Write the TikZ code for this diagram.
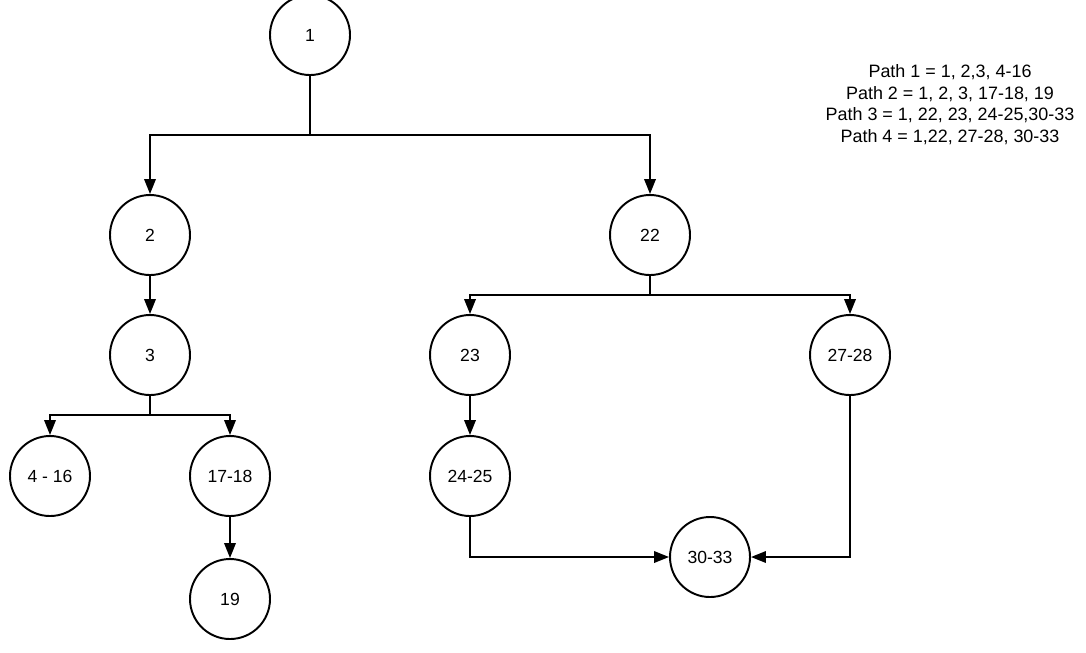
\documentclass[tikz,border=0pt]{standalone}
\usepackage{fontspec}
\setmainfont{Liberation Sans}
\usetikzlibrary{arrows.meta,positioning,calc}

\begin{document}
\begin{tikzpicture}[
    blk/.style={circle, draw=black, line width=1.1pt, minimum size=1.6cm, inner sep=0pt, font=\fontsize{10}{12}\selectfont},
    ln/.style={draw=black, line width=1.1pt},
    arr/.style={-{Triangle[length=3mm, width=2.3mm]}, draw=black, line width=1.1pt}
  ]
    \useasboundingbox (0,0) rectangle (21.72,-13.04);

    \node[blk] (n1) at (6.2, -0.7) {1};
    \node[blk] (n2) at (3.0, -4.7) {2};
    \node[blk] (n22) at (13.0, -4.7) {22};
    \node[blk] (n3) at (3.0, -7.1) {3};
    \node[blk] (n23) at (9.4, -7.1) {23};
    \node[blk] (n27) at (17.0, -7.1) {27-28};
    \node[blk] (n4) at (1.0, -9.52) {4 - 16};
    \node[blk] (n17) at (4.6, -9.52) {17-18};
    \node[blk] (n24) at (9.4, -9.52) {24-25};
    \node[blk] (n19) at (4.6, -11.98) {19};
    \node[blk] (n30) at (14.2, -11.14) {30-33};

    \node[align=center, font=\fontsize{10.2}{12.2}\selectfont] (paths) at (19.0, -2.09) {Path 1 = 1, 2,3, 4-16\\Path 2 = 1, 2, 3, 17-18, 19\\Path 3 = 1, 22, 23, 24-25,30-33\\Path 4 = 1,22, 27-28, 30-33};

    \coordinate (s1) at (6.2, -2.7);
    \coordinate (s22) at (13.0, -5.9);
    \coordinate (s3) at (3.0, -8.3);

    \draw[ln] (n1) -- (s1);
    \draw[arr] (s1) -| (n2);
    \draw[arr] (s1) -| (n22);
    \draw[arr] (n2) -- (n3);
    \draw[ln] (n22) -- (s22);
    \draw[arr] (s22) -| (n23);
    \draw[arr] (s22) -| (n27);
    \draw[ln] (n3) -- (s3);
    \draw[arr] (s3) -| (n4);
    \draw[arr] (s3) -| (n17);
    \draw[arr] (n17) -- (n19);
    \draw[arr] (n23) -- (n24);
    \draw[arr] (n24) |- (n30);
    \draw[arr] (n27) |- (n30);
\end{tikzpicture}
\end{document}
